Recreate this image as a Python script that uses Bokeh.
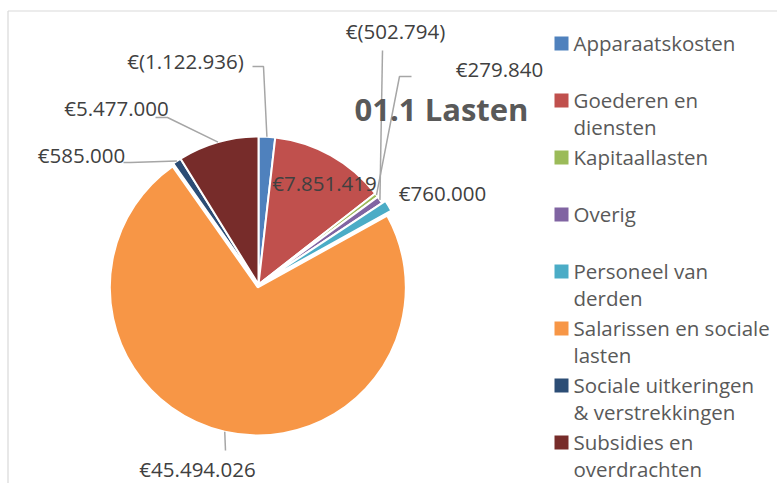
import math
from bokeh.plotting import figure
from bokeh.models import Range1d
from bokeh.embed import file_html
from bokeh.resources import INLINE
from bokeh.core.properties import value

# ---------------- data ----------------
categories = ["Apparaatskosten", "Goederen en diensten", "Kapitaallasten", "Overig",
              "Personeel van derden", "Salarissen en sociale lasten",
              "Sociale uitkeringen & verstrekkingen", "Subsidies en overdrachten"]
amounts = [-1122936, 7851419, 279840, -502794, 760000, 45494026, 585000, 5477000]
legend_lines = [["Apparaatskosten"], ["Goederen en", "diensten"], ["Kapitaallasten"], ["Overig"],
                ["Personeel van", "derden"], ["Salarissen en sociale", "lasten"],
                ["Sociale uitkeringen", "& verstrekkingen"], ["Subsidies en", "overdrachten"]]
title = "01.1 Lasten"

# ---------------- styles / layout ----------------
colors = ["#4F81BD", "#C0504D", "#9BBB59", "#8064A2", "#4BACC6", "#F79646", "#2C4D75", "#772C2A"]
explode = [0, 0, 0, 0, 4, 3, 0, 0]
# label centres (screen px) and leader elbows (None = no leader)
label_pos = [(185, 60), (324, 182), (499, 68), (395, 30), (442, 192), (197, 468), (81, 154), (116, 107)]
leader_start = [[(252, 66), (263, 66)], None, [(411, 76), (399, 76)], [(382, 50)], None,
                [(225, 450)], [(123, 162), (130, 162)], [(155, 117), (167, 117)]]

W, H = 777, 483
CX, CY, R = 258, 284, 148


def Y(sy):
    return H - sy


p = figure(width=W, height=H, output_backend="svg", toolbar_location=None,
           x_range=Range1d(0, W), y_range=Range1d(0, H), min_border=0)
p.axis.visible = False
p.grid.visible = False
p.outline_line_color = None
p.background_fill_color = "white"

# chart border (top and left visible)
p.line([7.5, W], [Y(10.5), Y(10.5)], line_color="#D9D9D9", line_width=1.2)
p.line([7.5, 7.5], [Y(10.5), 0], line_color="#D9D9D9", line_width=1.2)

total = sum(abs(a) for a in amounts)
cum = 0.0
mids = []
for i, a in enumerate(amounts):
    frac = abs(a) / total
    t1 = cum * 360.0
    t2 = (cum + frac) * 360.0
    cum += frac
    mid = math.radians((t1 + t2) / 2)
    mids.append(mid)
    ox = explode[i] * math.sin(mid)
    oy = explode[i] * math.cos(mid)
    p.wedge(x=[CX + ox], y=[Y(CY) + oy], radius=R,
            start_angle=math.radians(90 - t2), end_angle=math.radians(90 - t1),
            fill_color=colors[i], line_color="white", line_width=2)


def fmt(v):
    s = f"{abs(v):,}".replace(",", ".")
    return f"€({s})" if v < 0 else f"€{s}"


# leaders
for i, pts in enumerate(leader_start):
    if pts is None:
        continue
    mid = mids[i]
    ex = CX + (R + explode[i]) * math.sin(mid)
    ey = CY - (R + explode[i]) * math.cos(mid)
    xs = [q[0] for q in pts] + [ex]
    ys = [Y(q[1]) for q in pts] + [Y(ey)]
    p.line(xs, ys, line_color="#A6A6A6", line_width=1.5)

# data labels
p.text(x=[q[0] for q in label_pos], y=[Y(q[1]) for q in label_pos],
       text=[fmt(v) for v in amounts], text_font=value("Open Sans"),
       text_font_size="20.5px", text_color="#404040",
       text_align="center", text_baseline="middle")

# title
p.text(x=[441], y=[Y(108)], text=[title], text_font=value("Open Sans"),
       text_font_size="31px", text_font_style="bold", text_color="#595959",
       text_align="center", text_baseline="middle")

# legend
lx, ly0, step, lh = 561, 42, 57.0, 27.0
for k, lines in enumerate(legend_lines):
    y0 = ly0 + step * k
    p.rect(x=[lx], y=[Y(y0 + 1)], width=14, height=14, fill_color=colors[k], line_color=None)
    p.text(x=[573] * len(lines), y=[Y(y0 + j * lh) for j in range(len(lines))], text=lines,
           text_font=value("Open Sans"), text_font_size="20.5px", text_color="#595959",
           text_align="left", text_baseline="middle")

open("out.html", "w").write(file_html(p, INLINE))
